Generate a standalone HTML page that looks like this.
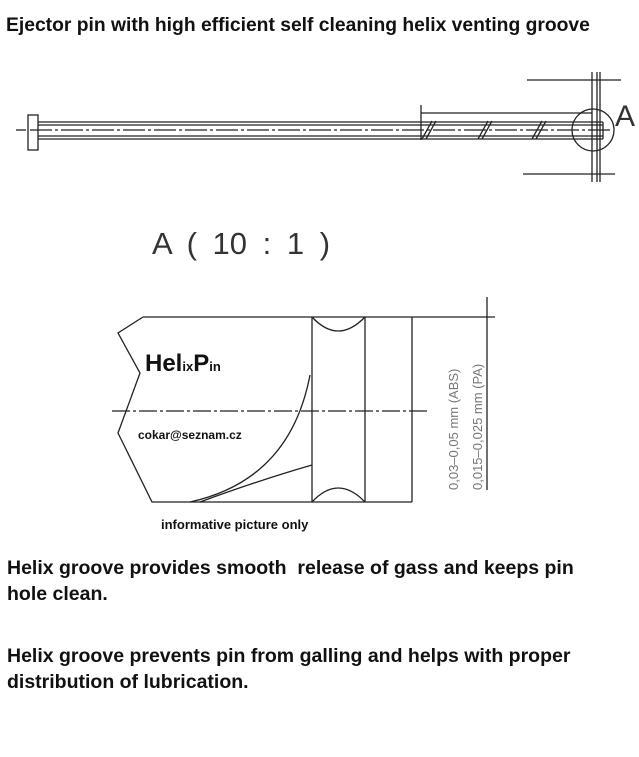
<!DOCTYPE html>
<html><head><style>
body{margin:0;background:#fff;width:639px;height:757px;overflow:hidden;font-family:"Liberation Sans",sans-serif;}
.t{position:absolute;font-weight:bold;color:#111;}
</style></head><body>
<div class="t" style="left:6px;top:15px;font-size:19.3px;white-space:nowrap;">Ejector pin with high efficient self cleaning helix venting groove</div>
<svg width="639" height="757" style="position:absolute;left:0;top:0" xmlns="http://www.w3.org/2000/svg">
<g stroke="#222" stroke-width="1.3" fill="none">
<rect x="28" y="115" width="10" height="35"/>
<line x1="16" y1="130" x2="26" y2="130"/>
<line x1="38" y1="122" x2="603" y2="122"/>
<line x1="38" y1="125" x2="603" y2="125"/>
<line x1="38" y1="136" x2="603" y2="136"/>
<line x1="38" y1="139" x2="603" y2="139"/>
<line x1="603" y1="122" x2="603" y2="139"/>
<line x1="30" y1="130" x2="612" y2="130" stroke-dasharray="22,3,3,3"/>
<path d="M422 139 L432 121 M426 139 L436 121 M478 139 L488 121 M482 139 L492 121 M532 139 L542 121 M536 139 L546 121"/>
<line x1="421" y1="105" x2="421" y2="140"/>
<line x1="421" y1="113" x2="592" y2="113"/>
<line x1="592" y1="72" x2="592" y2="182"/>
<line x1="597" y1="72" x2="597" y2="182"/>
<line x1="600" y1="72" x2="600" y2="182"/>
<line x1="527" y1="80" x2="621" y2="80"/>
<line x1="523" y1="174" x2="615" y2="174"/>
<circle cx="593" cy="130" r="21"/>
</g>
<text x="615" y="126" font-size="30" font-family="Liberation Sans" fill="#333">A</text>
<text x="152" y="254" font-size="31" font-family="Liberation Sans" fill="#333" word-spacing="7">A ( 10 : 1 )</text>
<g stroke="#222" stroke-width="1.3" fill="none">
<line x1="143" y1="317" x2="495" y2="317"/>
<path d="M143 317 L118 333 L140 373 L118 433 L152 502 L412 502"/>
<line x1="312" y1="317" x2="312" y2="502"/>
<line x1="365" y1="317" x2="365" y2="502"/>
<line x1="412" y1="317" x2="412" y2="502"/>
<path d="M312 317 Q338 345 365 317"/>
<path d="M312 502 Q338 474 365 502"/>
<path d="M310 375 Q290 480 190 502"/>
<path d="M312 465 Q260 480 200 502"/>
<line x1="112" y1="411" x2="427" y2="411" stroke-dasharray="18,3,3,3"/>
<line x1="487" y1="297" x2="487" y2="490"/>
</g>
<text transform="translate(458,490) rotate(-90)" font-size="13" fill="#777" font-family="Liberation Sans">0,03–0,05 mm (ABS)</text>
<text transform="translate(482,490) rotate(-90)" font-size="13" fill="#777" font-family="Liberation Sans">0,015–0,025 mm (PA)</text>
</svg>
<div class="t" style="left:145px;top:350px;font-size:24px;">Hel<span style="font-size:13px">ix</span>P<span style="font-size:13px">in</span></div>
<div class="t" style="left:138px;top:428px;font-size:12px;">cokar@seznam.cz</div>
<div class="t" style="left:161px;top:517px;font-size:13px;">informative picture only</div>
<div class="t" style="left:7px;top:555px;font-size:19.5px;line-height:26px;width:596px;">Helix groove provides smooth&nbsp; release of gass and keeps pin hole clean.</div>
<div class="t" style="left:7px;top:643px;font-size:19.5px;line-height:26px;width:596px;">Helix groove prevents pin from galling and helps with proper distribution of lubrication.</div>
</body></html>
